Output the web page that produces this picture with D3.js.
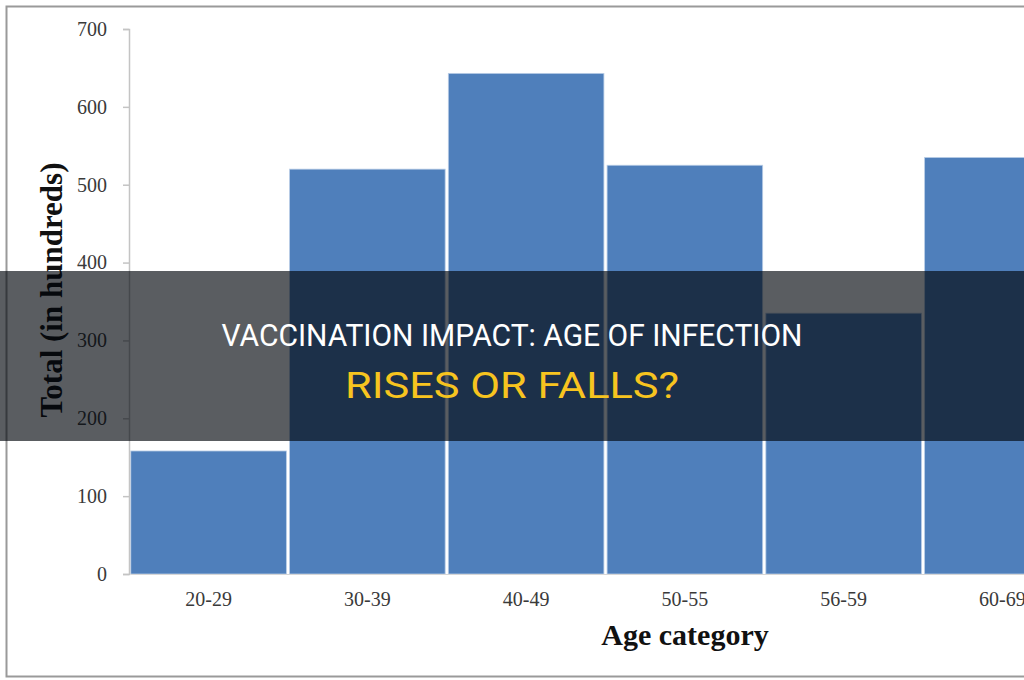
<!DOCTYPE html>
<html>
<head>
<meta charset="utf-8">
<script src="https://cdn.jsdelivr.net/npm/d3@7"></script>
<style>
  body { margin: 0; background: #fff; }
  svg { display: block; }
</style>
</head>
<body>
<div id="chart"></div>
<script>
// Data
const categories = ["20-29", "30-39", "40-49", "50-55", "56-59", "60-69"];
const totals = [158, 520, 643, 525, 335, 535];
const yTicks = [0, 100, 200, 300, 400, 500, 600, 700];
const titleLines = ["VACCINATION IMPACT: AGE OF INFECTION", "RISES OR FALLS?"];

const width = 1024;
const height = 680;

const svg = d3.select("#chart")
  .append("svg")
  .attr("width", width)
  .attr("height", height);

// outer frame (right side runs off the picture)
svg.append("rect")
  .attr("x", 6.5).attr("y", 6.5)
  .attr("width", 1100).attr("height", 670)
  .attr("fill", "#fff")
  .attr("stroke", "#9a9a9a")
  .attr("stroke-width", 2);

// Scales
const x = d3.scaleBand()
  .domain(categories)
  .range([130, 1081])
  .paddingInner(0.02)
  .paddingOuter(0.005);

const y = d3.scaleLinear()
  .domain([0, 700])
  .range([574, 29]);

// Bars
svg.append("g")
  .selectAll("rect")
  .data(categories)
  .join("rect")
  .attr("x", d => x(d))
  .attr("y", (d, i) => y(totals[i]))
  .attr("width", x.bandwidth())
  .attr("height", (d, i) => y(0) - y(totals[i]))
  .attr("fill", "#4f7fbb")
  .attr("stroke", "#b9cde6")
  .attr("stroke-width", 0.8);

// Y axis
const yAxis = svg.append("g")
  .attr("transform", "translate(129,0)")
  .call(d3.axisLeft(y).tickValues(yTicks).tickSize(6).tickPadding(16).tickFormat(d3.format("d")));
yAxis.select(".domain").attr("stroke", "#c4c4c4").attr("stroke-width", 1.5);
yAxis.selectAll(".tick line").attr("stroke", "#c4c4c4").attr("stroke-width", 1.5);
yAxis.selectAll("text")
  .attr("font-family", "Liberation Serif, serif")
  .attr("font-size", 20)
  .attr("fill", "#3a3a3a");

// X axis
const xAxis = svg.append("g")
  .attr("transform", "translate(0,574)")
  .call(d3.axisBottom(x).tickSize(0).tickPadding(18));
xAxis.select(".domain").attr("stroke", "#d6d6d6");
xAxis.selectAll("text")
  .attr("font-family", "Liberation Serif, serif")
  .attr("font-size", 20)
  .attr("fill", "#3a3a3a");

// Axis titles
svg.append("text")
  .attr("transform", "translate(62,290) rotate(-90)")
  .attr("text-anchor", "middle")
  .attr("font-family", "Liberation Serif, serif")
  .attr("font-weight", "bold")
  .attr("font-size", 31)
  .attr("fill", "#111")
  .text("Total (in hundreds)");

svg.append("text")
  .attr("x", 685).attr("y", 645)
  .attr("text-anchor", "middle")
  .attr("font-family", "Liberation Serif, serif")
  .attr("font-weight", "bold")
  .attr("font-size", 30)
  .attr("fill", "#111")
  .text("Age category");

// Banner overlay
svg.append("rect")
  .attr("x", 0).attr("y", 271)
  .attr("width", width).attr("height", 170)
  .attr("fill", "#02060c")
  .attr("opacity", 0.65);

svg.append("text")
  .attr("x", 512).attr("y", 346)
  .attr("text-anchor", "middle")
  .attr("font-family", "Roboto, sans-serif")
  .attr("font-size", 32)
  .attr("textLength", 581)
  .attr("lengthAdjust", "spacingAndGlyphs")
  .attr("fill", "#fff")
  .text(titleLines[0]);

svg.append("text")
  .attr("x", 512).attr("y", 398)
  .attr("text-anchor", "middle")
  .attr("font-family", "Roboto, sans-serif")
  .attr("font-size", 37)
  .attr("textLength", 334)
  .attr("lengthAdjust", "spacingAndGlyphs")
  .attr("fill", "#f7c41f")
  .text(titleLines[1]);
</script>
</body>
</html>
